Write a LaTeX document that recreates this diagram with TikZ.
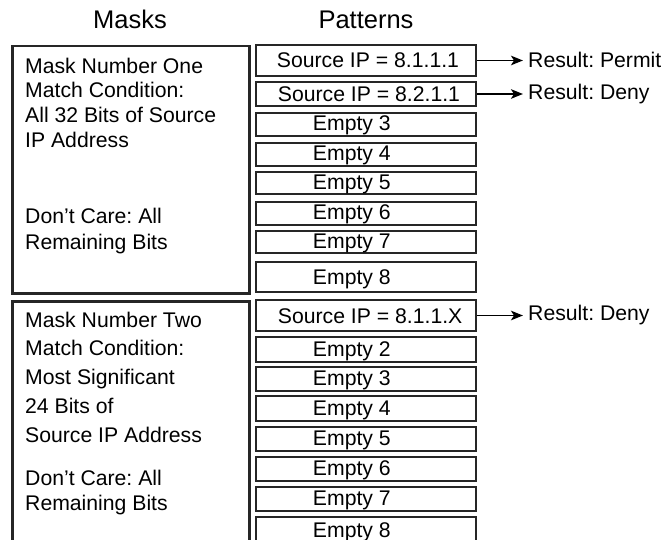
\documentclass[tikz,border=0pt]{standalone}
\usepackage{fontspec}
\setmainfont{Liberation Sans}
\usetikzlibrary{arrows.meta}
\frenchspacing
\begin{document}
\begin{tikzpicture}[x=1pt,y=-1pt,
  boxline/.style={draw=black!85,line width=2.5pt},
  patbox/.style={boxline,minimum width=220pt,inner sep=0pt,anchor=center},
  txt/.style={font=\fontsize{21.2}{25}\selectfont,inner sep=0pt,anchor=base west},
  head/.style={font=\fontsize{25.5}{30}\selectfont,inner sep=0pt,anchor=base},
  res/.style={font=\fontsize{21.2}{25}\selectfont,inner xsep=5pt,inner ysep=0pt,anchor=west},
  arr/.style={draw=black,line width=1.6pt,-{Stealth[length=12pt,width=9.5pt,inset=3pt]}}]
\useasboundingbox (0,0) rectangle (664,540);
\clip (0,0) rectangle (664,540);
% headings
\node[head] (hm) at (130,28.5) {Masks};
\node[head] (hp) at (366,28.5) {Patterns};
% mask boxes
\node[boxline,minimum width=237pt,minimum height=247pt,inner sep=0pt,anchor=north west] (m1) at (11,45) {};
\node[boxline,minimum width=237pt,minimum height=260pt,inner sep=0pt,anchor=north west] (m2) at (11,300) {};
% mask texts
\node[txt] (t1a) at (25,74) {Mask Number One};
\node[txt] (t1b) at (25,98) {Match Condition:};
\node[txt] (t1c) at (25,123) {All 32 Bits of Source};
\node[txt] (t1d) at (25,148) {IP Address};
\node[txt] (t1e) at (25,224) {Don’t Care: All};
\node[txt] (t1f) at (25,249) {Remaining Bits};
\node[txt] (t2a) at (25,327) {Mask Number Two};
\node[txt] (t2b) at (25,355) {Match Condition:};
\node[txt] (t2c) at (25,384) {Most Significant};
\node[txt] (t2d) at (25,413.5) {24 Bits of};
\node[txt] (t2e) at (25,442) {Source IP Address};
\node[txt] (t2f) at (25,485) {Don’t Care: All};
\node[txt] (t2g) at (25,510) {Remaining Bits};
% pattern boxes group 1
\node[patbox,minimum height=31pt] (p1) at (366,60.5) {};
\node[patbox,minimum height=24pt] (p2) at (366,94) {};
\node[patbox,minimum height=23pt] (p3) at (366,124.5) {};
\node[patbox,minimum height=23pt] (p4) at (366,154.5) {};
\node[patbox,minimum height=22pt] (p5) at (366,183) {};
\node[patbox,minimum height=23pt] (p6) at (366,213.5) {};
\node[patbox,minimum height=22pt] (p7) at (366,242) {};
\node[patbox,minimum height=30pt] (p8) at (366,277) {};
% pattern boxes group 2
\node[patbox,minimum height=31pt] (q1) at (366,315.5) {};
\node[patbox,minimum height=25pt] (q2) at (366,349.5) {};
\node[patbox,minimum height=24pt] (q3) at (366,379) {};
\node[patbox,minimum height=25pt] (q4) at (366,408.5) {};
\node[patbox,minimum height=24pt] (q5) at (366,439) {};
\node[patbox,minimum height=24pt] (q6) at (366,469) {};
\node[patbox,minimum height=24pt] (q7) at (366,499) {};
\node[patbox,minimum height=32pt] (q8) at (366,533) {};
% pattern labels
\node[txt] (l1) at ([xshift=22pt,yshift=-7.5pt]p1.west) {Source IP = 8.1.1.1};
\node[txt] (l2) at ([xshift=23pt,yshift=-7.5pt]p2.west) {Source IP = 8.2.1.1};
\node[txt] (l3) at ([xshift=58pt,yshift=-6.5pt]p3.west) {Empty 3};
\node[txt] (l4) at ([xshift=58pt,yshift=-6.5pt]p4.west) {Empty 4};
\node[txt] (l5) at ([xshift=58pt,yshift=-6.5pt]p5.west) {Empty 5};
\node[txt] (l6) at ([xshift=58pt,yshift=-6.5pt]p6.west) {Empty 6};
\node[txt] (l7) at ([xshift=58pt,yshift=-6.5pt]p7.west) {Empty 7};
\node[txt] (l8) at ([xshift=58pt,yshift=-7pt]p8.west) {Empty 8};
\node[txt] (k1) at ([xshift=23pt,yshift=-7.5pt]q1.west) {Source IP = 8.1.1.X};
\node[txt] (k2) at ([xshift=58pt,yshift=-6.5pt]q2.west) {Empty 2};
\node[txt] (k3) at ([xshift=58pt,yshift=-6.5pt]q3.west) {Empty 3};
\node[txt] (k4) at ([xshift=58pt,yshift=-6.5pt]q4.west) {Empty 4};
\node[txt] (k5) at ([xshift=58pt,yshift=-6.5pt]q5.west) {Empty 5};
\node[txt] (k6) at ([xshift=58pt,yshift=-6.5pt]q6.west) {Empty 6};
\node[txt] (k7) at ([xshift=58pt,yshift=-6.5pt]q7.west) {Empty 7};
\node[txt] (k8) at ([xshift=58pt,yshift=-4pt]q8.west) {Empty 8};
% results
\node[res] (r1) at (523,59.5) {Result: Permit};
\node[res] (r2) at (523,94) {Result: Deny};
\node[res] (r3) at (523,315.5) {Result: Deny};
\draw[arr] (p1.east) -- (p1.east -| r1.west);
\draw[arr] (p2.east) -- (p2.east -| r2.west);
\draw[arr] (q1.east) -- (q1.east -| r3.west);
\end{tikzpicture}
\end{document}
